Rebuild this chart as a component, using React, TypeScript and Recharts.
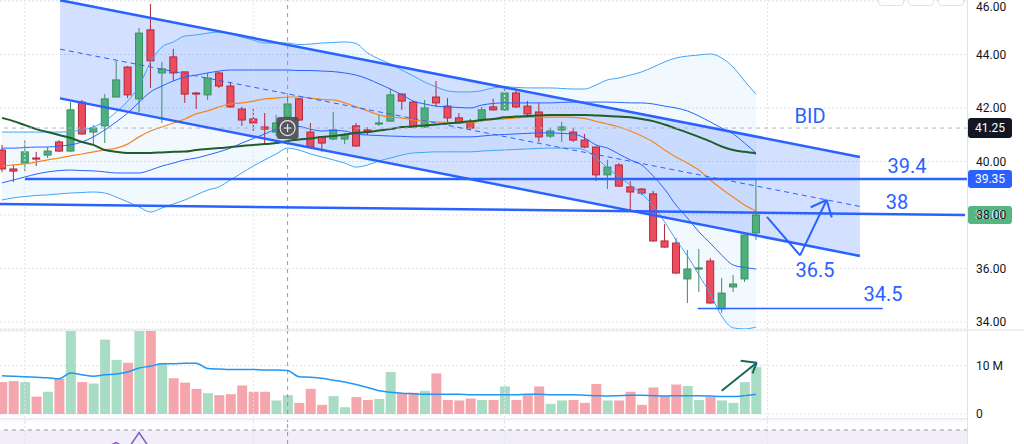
import * as React from "react";
import {
  ComposedChart,
  Bar,
  Line,
  Area,
  XAxis,
  YAxis,
  CartesianGrid,
  ReferenceLine,
  ReferenceDot,
  ReferenceArea,
  Cell,
} from "recharts";

// daily candles (index 0 = leftmost bar)
const OPEN = [
  40.43, 39.72, 39.94, 40.13, 40.24, 40.73, 40.39, 42.22, 41.1, 41.33, 42.41, 43.53, 42.34, 44.92, 43.31, 43.91, 43.35,
  42.56, 42.49, 43.31, 42.82, 41.96, 41.59, 41.29, 41.1, 41.66, 42.34, 41.1, 40.92, 40.84, 40.84, 41.33, 41.18, 41.4,
  41.51, 42.52, 42.22, 41.29, 42.41, 42.07, 41.63, 41.44, 41.55, 42.04, 41.93, 42.56, 42.07, 41.85, 40.95, 41.18, 41.1,
  40.8, 40.54, 39.5, 39.87, 39.05, 38.97, 38.79, 37.03, 36.95, 35.61, 35.98, 36.28, 34.49, 35.31, 35.61, 37.33,
];
const HIGH = [
  40.62, 39.87, 40.8, 40.36, 40.54, 40.8, 42.22, 42.3, 41.36, 42.52, 43.76, 43.57, 44.99, 45.89, 43.72, 44.21, 43.35,
  42.6, 43.31, 43.35, 42.97, 42.04, 42.0, 41.81, 41.74, 42.45, 42.37, 41.44, 40.92, 41.85, 41.07, 41.44, 41.29, 41.74,
  42.71, 42.56, 42.26, 42.3, 43.01, 42.37, 41.81, 41.59, 42.04, 42.34, 42.79, 42.71, 42.26, 42.19, 41.25, 41.48, 41.25,
  41.03, 40.56, 40.06, 39.94, 39.27, 39.01, 38.9, 37.66, 37.14, 36.69, 36.73, 36.39, 35.64, 35.76, 37.27, 39.38,
];
const LOW = [
  39.61, 39.23, 39.64, 39.83, 40.13, 40.36, 40.36, 40.99, 40.65, 40.69, 42.41, 42.37, 41.85, 42.75, 41.44, 43.01, 42.19,
  41.96, 42.3, 42.75, 42.0, 41.33, 41.14, 40.69, 40.95, 41.55, 41.51, 40.5, 40.36, 40.8, 40.65, 40.55, 40.99, 41.33,
  41.48, 41.93, 41.25, 41.25, 42.04, 41.44, 41.42, 41.18, 41.48, 41.9, 41.9, 42.0, 41.63, 40.73, 40.88, 40.73, 40.73,
  40.5, 39.27, 38.97, 39.05, 38.15, 38.75, 37.0, 36.78, 35.8, 34.71, 35.12, 34.68, 34.34, 35.12, 35.5, 37.07,
];
const CLOSE = [
  39.72, 39.64, 40.36, 40.09, 40.39, 40.39, 41.93, 41.03, 41.25, 42.34, 43.05, 42.49, 44.8, 43.76, 43.46, 43.31, 42.52,
  42.52, 43.12, 42.82, 42.04, 41.55, 41.44, 41.21, 41.44, 42.15, 41.55, 40.54, 40.69, 41.18, 40.99, 40.58, 41.1, 41.44,
  42.49, 42.26, 41.29, 42.0, 42.19, 41.63, 41.44, 41.25, 41.93, 41.93, 42.56, 42.04, 41.78, 40.92, 41.14, 41.29, 40.8,
  40.54, 39.5, 39.79, 39.08, 38.86, 38.82, 37.03, 36.8, 35.83, 35.98, 36.02, 34.71, 35.08, 35.42, 37.25, 38.0,
];

// volume in millions (18 = clipped at the pane top)
const VOLUME = [
  6.6, 6.8, 6.6, 3.6, 4.6, 7.3, 18, 6.6, 6.3, 15.4, 11.2, 10.6, 18, 18, 10.4, 7.4, 6.5, 5.2, 4.3, 3.9, 4.1, 5.9, 4.6,
  4.6, 2.8, 3.9, 2.3, 5.2, 1.9, 3.7, 1.4, 3.5, 2.9, 3.1, 8.7, 4.3, 4.4, 4.8, 8.4, 2.9, 2.8, 3.2, 2.9, 2.9, 5.7, 2.9, 3.9,
  5.7, 2.1, 2.8, 2.9, 2.3, 6.2, 2.8, 2.8, 4.6, 1.9, 5.5, 3.7, 6.1, 5.8, 2.9, 3.5, 2.8, 2.3, 6.6, 9.7,
];
const VOLUME_MA = [
  7.9, 7.8, 7.7, 7.6, 7.5, 7.3, 8.5, 8.1, 7.8, 8.1, 8.3, 8.7, 9.5, 9.9, 10.4, 10.4, 10.5, 10.5, 9.4, 9.3, 9.2, 9.2, 9.2,
  9.1, 9.1, 9.0, 7.7, 7.6, 7.4, 7.0, 6.6, 6.1, 5.5, 4.8, 4.5, 4.3, 4.2, 4.1, 4.1, 4.1, 4.1, 4.0, 4.0, 4.0, 4.0, 4.0, 4.1,
  4.1, 4.0, 4.0, 4.0, 3.9, 3.8, 3.7, 3.8, 3.9, 3.9, 3.8, 3.7, 3.8, 3.8, 3.8, 3.7, 3.6, 3.6, 3.8, 4.1,
];

// orange basis and dark green slow average
const EMA_20 = [
  39.83, 39.87, 39.91, 39.98, 40.06, 40.13, 40.21, 40.28, 40.36, 40.43, 40.5, 40.65, 40.92, 41.14, 41.29, 41.44, 41.59,
  41.78, 41.89, 42.04, 42.15, 42.19, 42.26, 42.34, 42.37, 42.41, 42.41, 42.37, 42.32, 42.3, 42.19, 42.04, 41.89, 41.74,
  41.66, 41.63, 41.55, 41.51, 41.48, 41.46, 41.44, 41.44, 41.53, 41.57, 41.59, 41.63, 41.66, 41.66, 41.66, 41.66, 41.65,
  41.61, 41.5, 41.4, 41.29, 41.14, 40.95, 40.73, 40.43, 40.17, 39.94, 39.68, 39.31, 38.97, 38.67, 38.37, 38.15,
];
const SMA_50 = [
  41.63, 41.51, 41.36, 41.21, 41.1, 40.99, 40.88, 40.73, 40.62, 40.43, 40.36, 40.32, 40.32, 40.32, 40.34, 40.36, 40.37,
  40.43, 40.47, 40.5, 40.54, 40.58, 40.62, 40.65, 40.69, 40.77, 40.82, 40.86, 40.92, 40.95, 41.01, 41.07, 41.1, 41.16,
  41.21, 41.29, 41.31, 41.35, 41.38, 41.42, 41.46, 41.5, 41.55, 41.59, 41.65, 41.68, 41.7, 41.72, 41.74, 41.74, 41.74,
  41.74, 41.72, 41.7, 41.68, 41.65, 41.59, 41.51, 41.38, 41.23, 41.08, 40.92, 40.75, 40.56, 40.43, 40.36, 40.3,
];

// two sets of bands around the basis
const BB_UPPER_OUTER = [
  41.1, 41.1, 41.1, 41.1, 41.1, 41.1, 41.12, 41.18, 41.29, 41.51, 41.85, 42.26, 42.82, 43.72, 44.28, 44.47, 44.69, 44.73,
  44.8, 44.84, 44.77, 44.65, 44.54, 44.43, 44.43, 44.43, 44.37, 44.39, 44.43, 44.45, 44.47, 44.41, 44.06, 43.83, 43.65,
  43.42, 43.2, 42.97, 42.79, 42.64, 42.6, 42.6, 42.65, 42.75, 42.79, 42.77, 42.75, 42.75, 42.75, 42.73, 42.71, 42.71,
  42.86, 43.05, 43.12, 43.23, 43.35, 43.53, 43.72, 43.87, 43.94, 43.98, 44.02, 43.87, 43.53, 43.01, 42.52,
];
const BB_UPPER_INNER = [
  40.5, 40.5, 40.52, 40.54, 40.54, 40.58, 40.62, 40.73, 40.92, 41.18, 41.48, 41.81, 42.22, 42.6, 42.82, 43.01, 43.16,
  43.23, 43.31, 43.38, 43.42, 43.42, 43.42, 43.42, 43.42, 43.42, 43.4, 43.4, 43.38, 43.36, 43.31, 43.23, 43.09, 42.9,
  42.71, 42.49, 42.26, 42.15, 42.07, 42.04, 42.02, 42.0, 42.11, 42.17, 42.19, 42.19, 42.19, 42.19, 42.19, 42.21, 42.22,
  42.22, 42.22, 42.22, 42.21, 42.19, 42.19, 42.15, 42.07, 42.0, 41.89, 41.7, 41.48, 41.25, 41.03, 40.69, 40.32,
];
const BB_LOWER_INNER = [
  39.2, 39.31, 39.42, 39.53, 39.61, 39.66, 39.68, 39.66, 39.65, 39.61, 39.57, 39.57, 39.57, 39.68, 39.83, 39.94, 40.06,
  40.13, 40.24, 40.36, 40.5, 40.69, 40.86, 41.03, 41.21, 41.33, 41.31, 41.21, 41.14, 41.16, 41.14, 41.03, 40.99, 40.97,
  40.95, 40.94, 40.92, 40.92, 40.92, 40.92, 40.92, 40.92, 40.95, 40.99, 41.01, 41.03, 41.05, 41.07, 41.07, 41.05, 41.03,
  40.88, 40.62, 40.5, 40.28, 40.06, 39.87, 39.46, 38.97, 38.37, 37.89, 37.37, 36.95, 36.5, 36.13, 36.04, 35.98,
];
const BB_LOWER_OUTER = [
  38.56, 38.64, 38.69, 38.73, 38.75, 38.79, 38.82, 38.84, 38.86, 38.82, 38.67, 38.49, 38.3, 38.11, 38.26, 38.41, 38.56,
  38.75, 38.93, 39.05, 39.31, 39.57, 39.83, 40.06, 40.28, 40.5, 40.43, 40.28, 40.17, 40.06, 39.94, 39.79, 39.87, 40.02,
  40.13, 40.24, 40.32, 40.34, 40.36, 40.36, 40.36, 40.36, 40.39, 40.41, 40.43, 40.45, 40.47, 40.49, 40.5, 40.5, 40.5,
  40.43, 40.13, 39.76, 39.42, 39.12, 38.79, 38.34, 37.74, 37.07, 36.47, 35.76, 35.05, 34.22, 33.78, 33.74, 33.81,
];

// oscillator pane (only the top edge of it is in view)
const RSI = [
  50, 48, 53, 52, 54, 54, 58, 56, 57, 58, 61.6, 57, 68.3, 57, 58, 56, 52, 52, 55, 53, 49, 46, 45, 44, 46, 51, 47, 42, 43,
  46, 45, 43, 45, 47, 55, 53, 48, 52, 53, 49, 48, 47, 51, 51, 55, 52, 50, 44, 46, 47, 44, 42, 36, 39, 35, 33, 33, 27, 26,
  23, 26, 27, 22, 27, 29, 40, 47,
];

const PRICE_TICKS = [34, 36, 38, 40, 42, 44, 46];
const VOLUME_TICKS = [0, 10];
const GRID_BARS = [2, 22, 44, 67];
const CROSSHAIR = { bar: 25, price: 41.25 };

// drawings, in bar index / price units
const CHANNEL_X = [5.08, 75.1];
const CHANNEL_TOP = [46.03, 40.17];
const CHANNEL_BOTTOM = [42.36, 36.47];
const CHANNEL_MID = [44.2, 38.32];
const SUPPORT_LINE = [[-0.175, 38.41], [84.3, 38.0]];
const BID_LINE = [[2.01, 39.35], [84.56, 39.35]];
const TARGET_LINE = [[60.9, 34.5], [77.1, 34.5]];
const ZIGZAG = [[66.96, 37.93], [69.86, 36.49], [72.19, 38.56]];
const ZIGZAG_HEAD = [[70.79, 38.29], [72.63, 37.91]];
const NOTES = [
  { text: "BID", bar: 70.73, price: 41.7 },
  { text: "39.4", bar: 79.22, price: 39.85 },
  { text: "38", bar: 78.34, price: 38.47 },
  { text: "36.5", bar: 71.17, price: 35.96 },
  { text: "34.5", bar: 77.12, price: 35.03 },
];
const VOLUME_ARROW = [[63.0, 4.82], [66.06, 10.62]];
const VOLUME_ARROW_HEAD = [[64.66, 11.04], [65.7, 8.42]];
const PRICE_TAGS = [
  { price: 41.25, fill: "#131722", h: 20 },
  { price: 39.35, fill: "#2962ff", h: 18 },
  { price: 38.0, fill: "#53b683", h: 18 },
];

const X_DOMAIN: [number, number] = [-0.175, 84.56];
const BLUE = "#2962ff";
const UP = "#4daf7c";
const UP_EDGE = "#3a8f5f";
const DOWN = "#ec4d5e";
const DOWN_EDGE = "#b2283b";
const GRID = "#e0e3eb";
const FONT = "Roboto, 'Noto Sans', sans-serif";
const BODY_W = 7;

const priceRows = OPEN.map((o, i) => ({
  i,
  o,
  h: HIGH[i],
  l: LOW[i],
  c: CLOSE[i],
  range: [LOW[i], HIGH[i]],
  ema: EMA_20[i],
  sma: SMA_50[i],
  upOuter: BB_UPPER_OUTER[i],
  upInner: BB_UPPER_INNER[i],
  loInner: BB_LOWER_INNER[i],
  loOuter: BB_LOWER_OUTER[i],
  bbFill: [BB_LOWER_OUTER[i], BB_UPPER_OUTER[i]],
}));

const volumeRows = VOLUME.map((v, i) => ({ i, v, vma: VOLUME_MA[i], up: CLOSE[i] >= OPEN[i] }));
const rsiRows = RSI.map((r, i) => ({ i, rsi: r }));
const channelRows = CHANNEL_X.map((x, k) => ({ i: x, band: [CHANNEL_BOTTOM[k], CHANNEL_TOP[k]] }));

function Candle(props: any) {
  const { x, y, width, height, payload } = props;
  const { o, h, l, c } = payload;
  const up = c >= o;
  const k = h > l ? height / (h - l) : 0;
  const py = (p: number) => y + (h - p) * k;
  const cx = x + width / 2;
  const top = py(Math.max(o, c));
  const bot = py(Math.min(o, c));
  const edge = up ? UP_EDGE : DOWN_EDGE;
  return (
    <g>
      <line x1={cx} x2={cx} y1={y} y2={y + height} stroke={edge} strokeWidth={1} />
      <rect
        x={cx - BODY_W / 2}
        y={top}
        width={BODY_W}
        height={Math.max(bot - top, 1)}
        fill={up ? UP : DOWN}
        stroke={edge}
        strokeWidth={1}
      />
    </g>
  );
}

// price labels; the top one is nudged down so it stays readable
function PriceTick(props: any) {
  const { x, y, payload } = props;
  return (
    <text x={x} y={Math.max(y, 7)} dy="0.355em" fill="#131722" fontSize={12} fontFamily={FONT} textAnchor="start">
      {Number(payload.value).toFixed(2)}
    </text>
  );
}

function priceTag(price: number, fill: string, h: number) {
  return (props: any) => {
    const vb = props.viewBox;
    const x = vb.x + vb.width;
    const y = vb.y;
    return (
      <g>
        <rect x={x} y={y - h / 2} width={44} height={h} rx={3} fill={fill} />
        <text x={x + 22} y={y + 4} fill="#ffffff" fontSize={12} fontFamily={FONT} textAnchor="middle">
          {price.toFixed(2)}
        </text>
      </g>
    );
  };
}

function CrossIcon(props: any) {
  const { cx, cy } = props;
  return (
    <g>
      <rect x={cx - 11} y={cy - 11} width={22} height={22} rx={3} fill="#4a4a4a" fillOpacity={0.9} />
      <circle cx={cx} cy={cy} r={7.5} fill="none" stroke="#e6e6e6" strokeWidth={1.2} />
      <line x1={cx - 4} x2={cx + 4} y1={cy} y2={cy} stroke="#e6e6e6" strokeWidth={1.2} />
      <line x1={cx} x2={cx} y1={cy - 4} y2={cy + 4} stroke="#e6e6e6" strokeWidth={1.2} />
    </g>
  );
}

function note(text: string) {
  return (props: any) => (
    <text x={props.cx} y={props.cy + 7} fill={BLUE} fontSize={20} fontFamily={FONT} textAnchor="middle">
      {text}
    </text>
  );
}

function segment(a: number[], b: number[], key: string, stroke: string, width: number, dash?: string) {
  return (
    <ReferenceLine
      key={key}
      segment={[
        { x: a[0], y: a[1] },
        { x: b[0], y: b[1] },
      ]}
      stroke={stroke}
      strokeWidth={width}
      strokeDasharray={dash}
      ifOverflow="hidden"
    />
  );
}

function gridLines() {
  return GRID_BARS.map((b) => (
    <ReferenceLine key={`g${b}`} x={b} stroke={GRID} strokeDasharray="2 2" ifOverflow="hidden" />
  ));
}

const axisTick = { fill: "#131722", fontSize: 12, fontFamily: FONT };
const lineProps = { dot: false, activeDot: false, isAnimationActive: false } as const;

export default function App() {
  return (
    <div style={{ position: "absolute", left: 0, top: 0, width: 1024, height: 444, background: "#fff", overflow: "hidden" }}>
      <ComposedChart width={1024} height={329} data={priceRows} margin={{ top: 0, right: 0, bottom: 0, left: 0 }}>
        <XAxis dataKey="i" type="number" domain={X_DOMAIN} allowDataOverflow hide />
        <YAxis
          orientation="right"
          domain={[33.738, 46.037]}
          ticks={PRICE_TICKS}
          interval={0}
          allowDataOverflow
          width={56}
          axisLine={false}
          tickLine={false}
          tick={<PriceTick />}
        />
        <CartesianGrid vertical={false} stroke={GRID} strokeDasharray="2 2" />
        {gridLines()}
        <Area dataKey="bbFill" type="monotone" stroke="none" fill="#2196f3" fillOpacity={0.06} {...lineProps} />
        <Area
          data={channelRows}
          dataKey="band"
          type="linear"
          stroke="none"
          fill={BLUE}
          fillOpacity={0.2}
          {...lineProps}
        />
        <Line dataKey="upOuter" type="monotone" stroke="#42a5f5" strokeWidth={1} {...lineProps} />
        <Line dataKey="loOuter" type="monotone" stroke="#42a5f5" strokeWidth={1} {...lineProps} />
        <Line dataKey="upInner" type="monotone" stroke={BLUE} strokeWidth={1} {...lineProps} />
        <Line dataKey="loInner" type="monotone" stroke={BLUE} strokeWidth={1} {...lineProps} />
        <Line dataKey="ema" type="monotone" stroke="#f7861f" strokeWidth={1.2} {...lineProps} />
        <Line dataKey="sma" type="monotone" stroke="#1e5e2b" strokeWidth={2} {...lineProps} />
        <ReferenceLine x={CROSSHAIR.bar} stroke="#9598a1" strokeDasharray="4 4" />
        <ReferenceLine y={CROSSHAIR.price} stroke="#b2b5be" strokeDasharray="4 4" label={priceTag(41.25, "#131722", 20)} />
        <Bar dataKey="range" barSize={7} shape={<Candle />} activeBar={false} isAnimationActive={false} />
        {segment([CHANNEL_X[0], CHANNEL_TOP[0]], [CHANNEL_X[1], CHANNEL_TOP[1]], "ct", BLUE, 2.5)}
        {segment([CHANNEL_X[0], CHANNEL_BOTTOM[0]], [CHANNEL_X[1], CHANNEL_BOTTOM[1]], "cb", BLUE, 2.5)}
        {segment([CHANNEL_X[0], CHANNEL_MID[0]], [CHANNEL_X[1], CHANNEL_MID[1]], "cm", BLUE, 1, "5 4")}
        {segment(SUPPORT_LINE[0], SUPPORT_LINE[1], "sup", BLUE, 2.5)}
        {segment(BID_LINE[0], BID_LINE[1], "bid", BLUE, 2.5)}
        {segment(TARGET_LINE[0], TARGET_LINE[1], "tgt", BLUE, 1.5)}
        {segment(ZIGZAG[0], ZIGZAG[1], "z1", BLUE, 2)}
        {segment(ZIGZAG[1], ZIGZAG[2], "z2", BLUE, 2)}
        {segment(ZIGZAG_HEAD[0], ZIGZAG[2], "zh1", BLUE, 2)}
        {segment(ZIGZAG_HEAD[1], ZIGZAG[2], "zh2", BLUE, 2)}
        {PRICE_TAGS.filter((t) => t.price !== CROSSHAIR.price).map((t) => (
          <ReferenceLine key={`tag${t.price}`} y={t.price} stroke="none" label={priceTag(t.price, t.fill, t.h)} />
        ))}
        {NOTES.map((n) => (
          <ReferenceDot key={n.text} x={n.bar} y={n.price} r={0} shape={note(n.text)} />
        ))}
        <ReferenceDot x={CROSSHAIR.bar} y={CROSSHAIR.price} r={11} shape={CrossIcon} />
      </ComposedChart>

      <div style={{ position: "absolute", left: 0, top: 329, width: 1024, height: 2, background: "#eceef2" }} />

      <div style={{ position: "absolute", left: 0, top: 331 }}>
        <ComposedChart width={1024} height={91} data={volumeRows} margin={{ top: 0, right: 0, bottom: 0, left: 0 }}>
          <XAxis dataKey="i" type="number" domain={X_DOMAIN} allowDataOverflow hide />
          <YAxis
            orientation="right"
            domain={[-1.66, 17.18]}
            ticks={VOLUME_TICKS}
            interval={0}
            allowDataOverflow
            width={56}
            axisLine={false}
            tickLine={false}
            tick={axisTick}
            tickFormatter={(v: number) => (v === 0 ? "0" : `${v} M`)}
          />
          <CartesianGrid vertical={false} stroke={GRID} strokeDasharray="2 2" />
          {gridLines()}
          <ReferenceLine x={CROSSHAIR.bar} stroke="#9598a1" strokeDasharray="4 4" />
          <Bar dataKey="v" barSize={10} activeBar={false} isAnimationActive={false}>
            {volumeRows.map((r) => (
              <Cell key={r.i} fill={r.up ? "#a9dcc5" : "#f5a6ad"} />
            ))}
          </Bar>
          <Line dataKey="vma" type="monotone" stroke="#2196f3" strokeWidth={1.5} {...lineProps} />
          {segment(VOLUME_ARROW[0], VOLUME_ARROW[1], "va", "#17675d", 2)}
          {segment(VOLUME_ARROW_HEAD[0], VOLUME_ARROW[1], "vh1", "#17675d", 2)}
          {segment(VOLUME_ARROW_HEAD[1], VOLUME_ARROW[1], "vh2", "#17675d", 2)}
        </ComposedChart>
      </div>

      <div style={{ position: "absolute", left: 0, top: 420 }}>
        <ComposedChart width={1024} height={24} data={rsiRows} margin={{ top: 0, right: 0, bottom: 0, left: 0 }}>
          <XAxis dataKey="i" type="number" domain={X_DOMAIN} allowDataOverflow hide />
          <YAxis orientation="right" domain={[60.67, 76.67]} allowDataOverflow width={56} axisLine={false} tickLine={false} tick={false} />
          <ReferenceArea y1={30} y2={70} fill="#7e57c2" fillOpacity={0.1} ifOverflow="hidden" />
          {gridLines()}
          <ReferenceLine y={70} stroke="#9598a1" strokeDasharray="4 4" />
          <ReferenceLine x={CROSSHAIR.bar} stroke="#9598a1" strokeDasharray="4 4" />
          <Line dataKey="rsi" type="linear" stroke="#7e57c2" strokeWidth={1.5} {...lineProps} />
        </ComposedChart>
      </div>

      <div style={{ position: "absolute", left: 0, top: 418, width: 968, height: 2, background: "#eceef2" }} />
      <div style={{ position: "absolute", left: 967, top: 0, width: 1, height: 444, background: GRID }} />
      {[878, 908, 938].map((x) => (
        <div
          key={x}
          style={{
            position: "absolute",
            left: x,
            top: -8,
            width: 24,
            height: 12,
            border: `1px solid ${GRID}`,
            borderRadius: 4,
            background: "#fff",
          }}
        />
      ))}
    </div>
  );
}
